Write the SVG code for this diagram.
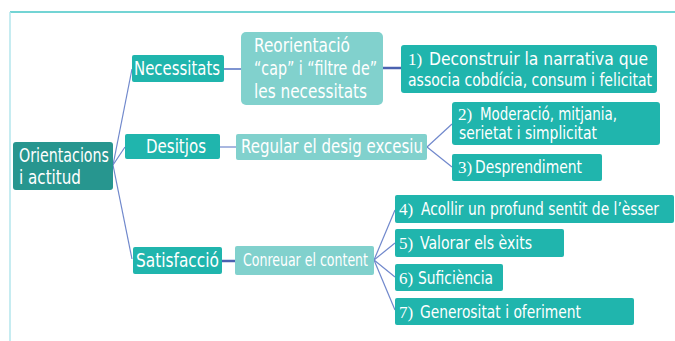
<svg xmlns="http://www.w3.org/2000/svg" width="675" height="341" viewBox="0 0 675 341">
<style>
.bg{fill:#ffffff}
.n{fill:#20b5ad}
.l{fill:#81d1cd}
.r{fill:#27968f}
text{font-family:"Liberation Sans Narrow","DejaVu Sans Condensed","Liberation Sans",sans-serif;fill:#ffffff;font-size:19.5px}
.s{font-size:17.5px}
.num{font-family:"Liberation Serif","DejaVu Serif",serif;font-size:17px}
.c{stroke:#7088cc;stroke-width:1.2;fill:none}
.ct{stroke:#4a62b0;stroke-width:2.5;fill:none}
</style>
<rect class="bg" x="0" y="0" width="675" height="341"/>
<line x1="10" y1="12" x2="675" y2="12" stroke="#45c6c6" stroke-width="1.5"/>
<line x1="10" y1="12" x2="10" y2="341" stroke="#b3e6ec" stroke-width="1.5"/>
<g id="connectors">
<line class="c" x1="113" y1="165" x2="132" y2="69"/>
<line class="c" x1="113" y1="165" x2="125" y2="147"/>
<line class="c" x1="113" y1="165" x2="132" y2="259"/>
<line class="c" x1="224" y1="69" x2="241" y2="69" style="stroke-width:1.8"/>
<line class="ct" x1="383" y1="68" x2="401" y2="68"/>
<line class="c" x1="220" y1="147" x2="236" y2="147"/>
<line class="c" x1="427" y1="147" x2="452" y2="124"/>
<line class="c" x1="427" y1="147" x2="452" y2="167"/>
<line class="ct" x1="222" y1="261" x2="235" y2="261"/>
<line class="c" x1="374" y1="260" x2="395" y2="210"/>
<line class="c" x1="374" y1="260" x2="395" y2="243"/>
<line class="c" x1="374" y1="260" x2="395" y2="277"/>
<line class="c" x1="374" y1="260" x2="395" y2="310"/>
</g>
<g id="root">
<rect class="r" x="13" y="142" width="100" height="48" rx="3"/>
<text x="19" y="162" textLength="90" lengthAdjust="spacingAndGlyphs">Orientacions</text>
<text x="19" y="184" textLength="62" lengthAdjust="spacingAndGlyphs">i actitud</text>
</g>
<g id="necessitats">
<rect class="n" x="132" y="55" width="92" height="27" rx="2"/>
<text x="134" y="75" textLength="86" lengthAdjust="spacingAndGlyphs">Necessitats</text>
</g>
<g id="reorientacio">
<rect class="l" x="241" y="32" width="142" height="73" rx="5"/>
<text x="254" y="52" textLength="96" lengthAdjust="spacingAndGlyphs">Reorientació</text>
<text x="254" y="75" textLength="123" lengthAdjust="spacingAndGlyphs">“cap” i “filtre de”</text>
<text x="254" y="98" textLength="113" lengthAdjust="spacingAndGlyphs">les necessitats</text>
</g>
<g id="item1">
<rect class="n" x="401" y="45" width="256" height="48" rx="3"/>
<text x="408" y="65" class="num">1)</text>
<text x="429" y="65" class="s" textLength="219" lengthAdjust="spacingAndGlyphs">Deconstruir la narrativa que</text>
<text x="408" y="86" class="s" textLength="244" lengthAdjust="spacingAndGlyphs">associa cobdícia, consum i felicitat</text>
</g>
<g id="desitjos">
<rect class="n" x="125" y="134" width="95" height="25" rx="2"/>
<text x="146" y="153" textLength="60" lengthAdjust="spacingAndGlyphs">Desitjos</text>
</g>
<g id="regular">
<rect class="l" x="236" y="134" width="191" height="26" rx="2"/>
<text x="241" y="153" textLength="182" lengthAdjust="spacingAndGlyphs">Regular el desig excesiu</text>
</g>
<g id="item2">
<rect class="n" x="452" y="102" width="208" height="43" rx="3"/>
<text x="458" y="120" class="num">2)</text>
<text x="480" y="120" class="s" textLength="137" lengthAdjust="spacingAndGlyphs">Moderació, mitjania,</text>
<text x="459" y="139" class="s" textLength="138" lengthAdjust="spacingAndGlyphs">serietat i simplicitat</text>
</g>
<g id="item3">
<rect class="n" x="452" y="154" width="150" height="27" rx="2"/>
<text x="458" y="173" class="num">3)</text>
<text x="475" y="173" class="s" textLength="107" lengthAdjust="spacingAndGlyphs">Desprendiment</text>
</g>
<g id="satisfaccio">
<rect class="n" x="133" y="247" width="89" height="27" rx="2"/>
<text x="136" y="267" textLength="83" lengthAdjust="spacingAndGlyphs">Satisfacció</text>
</g>
<g id="conreuar">
<rect class="l" x="235" y="246" width="139" height="29" rx="2"/>
<text x="243" y="266" class="s" textLength="125" lengthAdjust="spacingAndGlyphs">Conreuar el content</text>
</g>
<g id="item4">
<rect class="n" x="395" y="195" width="279" height="28" rx="2"/>
<text x="399" y="215" class="num">4)</text>
<text x="421" y="215" class="s" textLength="238" lengthAdjust="spacingAndGlyphs">Acollir un profund sentit de l’èsser</text>
</g>
<g id="item5">
<rect class="n" x="395" y="229" width="169" height="28" rx="2"/>
<text x="399" y="249" class="num">5)</text>
<text x="420" y="249" class="s" textLength="112" lengthAdjust="spacingAndGlyphs">Valorar els èxits</text>
</g>
<g id="item6">
<rect class="n" x="395" y="264" width="108" height="27" rx="2"/>
<text x="399" y="284" class="num">6)</text>
<text x="418" y="284" class="s" textLength="75" lengthAdjust="spacingAndGlyphs">Suficiència</text>
</g>
<g id="item7">
<rect class="n" x="395" y="298" width="239" height="27" rx="2"/>
<text x="399" y="318" class="num">7)</text>
<text x="420" y="318" class="s" textLength="161" lengthAdjust="spacingAndGlyphs">Generositat i oferiment</text>
</g>
</svg>
